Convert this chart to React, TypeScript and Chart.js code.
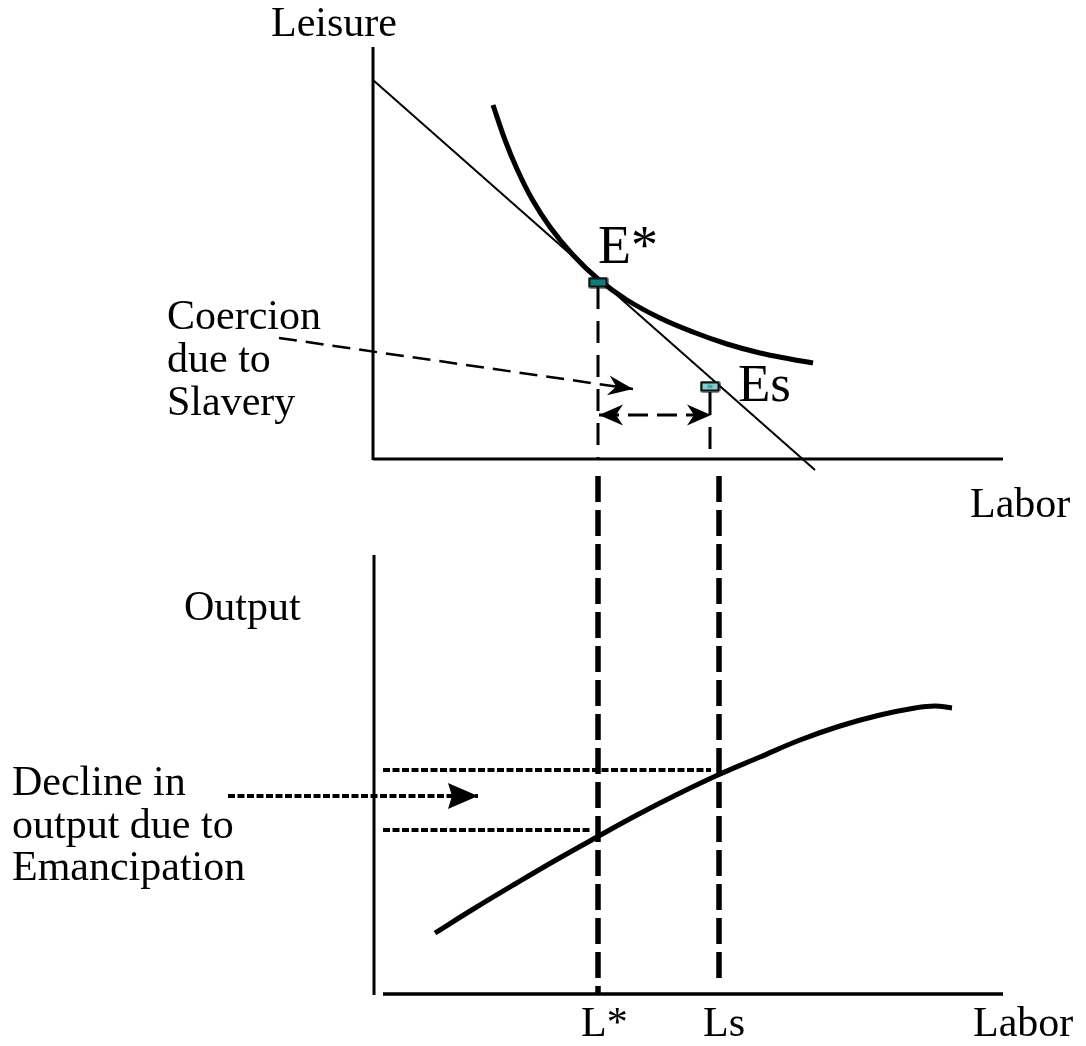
import React, { useEffect, useRef } from "react";
import { Chart, registerables } from "chart.js";

Chart.register(...registerables);

const W = 1086;
const H = 1046;
const P = 14; // hidden margin so the plot area maps exactly onto the visible frame
const FONT = "'Liberation Serif', 'Times New Roman', serif";

// ---- Top panel (Leisure vs Labor), diagram units ----
const leisureAxis = [{ x: 373, y: 47 }, { x: 373, y: 460 }];
const laborAxisTop = [{ x: 373, y: 459 }, { x: 1003, y: 459 }];
const budgetLine = [{ x: 373, y: 80 }, { x: 815, y: 470 }];
const indifferenceCurve = [
  { x: 493, y: 105 }, { x: 505, y: 140 }, { x: 517, y: 169 }, { x: 532, y: 199 },
  { x: 550, y: 227 }, { x: 573, y: 255 }, { x: 598, y: 279 }, { x: 627, y: 300 },
  { x: 660, y: 318 }, { x: 693, y: 332 }, { x: 727, y: 344 }, { x: 760, y: 353 },
  { x: 790, y: 359 }, { x: 813, y: 363 },
];
const eStarDrop = [{ x: 598, y: 287 }, { x: 598, y: 459 }];
const esStem = [{ x: 710, y: 392 }, { x: 710, y: 415 }];
const esDrop = [{ x: 710, y: 427 }, { x: 710, y: 459 }];
const coercionArrow = [{ x: 279, y: 338 }, { x: 633, y: 389 }];
const gapArrow = [{ x: 599, y: 415 }, { x: 711, y: 415 }];
const eStarPoint = [{ x: 598, y: 282.5 }];
const esPoint = [{ x: 710, y: 386.5 }];

// ---- Bottom panel (Output vs Labor) ----
const outputAxis = [{ x: 374, y: 555 }, { x: 374, y: 995 }];
const laborAxisBottom = [{ x: 383, y: 994 }, { x: 1003, y: 994 }];
const productionCurve = [
  { x: 435, y: 933 }, { x: 475, y: 908 }, { x: 515, y: 884 }, { x: 556, y: 860 },
  { x: 597, y: 837 }, { x: 637, y: 815 }, { x: 678, y: 794 }, { x: 718, y: 775 },
  { x: 760, y: 757 }, { x: 800, y: 740 }, { x: 840, y: 726 }, { x: 880, y: 715 },
  { x: 915, y: 708 }, { x: 935, y: 706 }, { x: 952, y: 708 },
];
const lStarDrop = [{ x: 598, y: 476 }, { x: 598, y: 994 }];
const lsDrop = [{ x: 719, y: 476 }, { x: 719, y: 986 }];
const outputAtLs = [{ x: 383, y: 770 }, { x: 711, y: 770 }];
const outputAtLStar = [{ x: 383, y: 830 }, { x: 590, y: 830 }];
const declineArrow = [{ x: 228, y: 796 }, { x: 478, y: 796 }];

// ---- Text labels (baseline anchored, left aligned) ----
const labelTexts = ["Leisure", "Labor", "Coercion", "due to", "Slavery", "E*", "Es",
  "Output", "Decline in", "output due to", "Emancipation", "L*", "Ls", "Labor"];
const labelX = [271, 970, 167, 167, 167, 598, 738, 184, 12, 12, 12, 581, 703, 973];
const labelY = [36, 517, 329, 372, 415, 263, 401, 620, 795, 838, 880, 1036, 1036, 1036];
const labelSize = [42, 42, 42, 42, 42, 54, 53, 42, 42, 42, 42, 42, 42, 42];

function markerCanvas(fill: string, inner: string) {
  const c = document.createElement("canvas");
  c.width = 21;
  c.height = 12;
  const g = c.getContext("2d")!;
  g.fillStyle = "#111";
  g.beginPath();
  (g as any).roundRect ? (g as any).roundRect(0.5, 0.5, 20, 11, 2) : g.rect(0.5, 0.5, 20, 11);
  g.fill();
  g.fillStyle = fill;
  g.fillRect(3, 3, 15, 6);
  if (inner) {
    g.fillStyle = inner;
    g.fillRect(8, 4.5, 5, 3);
  }
  return c;
}

function line(data: any[], width: number, dash: number[] = [], extra: any = {}) {
  return {
    data,
    showLine: true,
    borderColor: "#000",
    backgroundColor: "#000",
    borderWidth: width,
    borderDash: dash,
    pointRadius: 0,
    pointHoverRadius: 0,
    fill: false,
    ...extra,
  };
}

function arrowHead(ctx: CanvasRenderingContext2D, tx: number, ty: number, fx: number, fy: number,
  len: number, half: number, notch: number) {
  const a = Math.atan2(ty - fy, tx - fx);
  ctx.save();
  ctx.translate(tx, ty);
  ctx.rotate(a);
  ctx.beginPath();
  ctx.moveTo(0, 0);
  ctx.lineTo(-len, -half);
  ctx.lineTo(-len + notch, 0);
  ctx.lineTo(-len, half);
  ctx.closePath();
  ctx.fillStyle = "#000";
  ctx.fill();
  ctx.restore();
}

const overlay = {
  id: "overlay",
  afterDatasetsDraw(chart: any) {
    const ctx = chart.ctx as CanvasRenderingContext2D;
    const xs = chart.scales.x;
    const ys = chart.scales.y;
    const px = (p: any) => [xs.getPixelForValue(p.x), ys.getPixelForValue(p.y)];
    const heads: [any, any, number, number, number][] = [
      [coercionArrow[1], coercionArrow[0], 25, 10, 8],
      [gapArrow[0], gapArrow[1], 24, 10.5, 7],
      [gapArrow[1], gapArrow[0], 24, 10.5, 7],
      [declineArrow[1], declineArrow[0], 30, 13, 4],
    ];
    for (const [tip, from, len, half, notch] of heads) {
      const [tx, ty] = px(tip);
      const [fx, fy] = px(from);
      arrowHead(ctx, tx, ty, fx, fy, len, half, notch);
    }
    ctx.save();
    ctx.fillStyle = "#000";
    ctx.textAlign = "left";
    ctx.textBaseline = "alphabetic";
    for (let i = 0; i < labelTexts.length; i++) {
      ctx.font = `${labelSize[i]}px ${FONT}`;
      ctx.fillText(labelTexts[i], xs.getPixelForValue(labelX[i]), ys.getPixelForValue(labelY[i]));
    }
    ctx.restore();
  },
};

export default function App() {
  const ref = useRef<HTMLCanvasElement | null>(null);

  useEffect(() => {
    document.body.style.margin = "0";
    const canvas = ref.current!;
    const chart = new Chart(canvas, {
      type: "scatter",
      data: {
        datasets: [
          { data: eStarPoint, pointStyle: markerCanvas("#0a7d7d", ""), pointRadius: 1, pointHoverRadius: 1, showLine: false },
          { data: esPoint, pointStyle: markerCanvas("#80d2d2", "#3aa3a3"), pointRadius: 1, pointHoverRadius: 1, showLine: false },
          line(leisureAxis, 3),
          line(laborAxisTop, 3),
          line(budgetLine, 2),
          line(indifferenceCurve, 5, [], { tension: 0.4, borderJoinStyle: "round" }),
          line(eStarDrop, 3, [22, 12]),
          line(esStem, 3),
          line(esDrop, 3, [22, 12]),
          line(coercionArrow, 2.5, [18, 9]),
          line(gapArrow, 3, [20, 9]),
          line(outputAxis, 3),
          line(laborAxisBottom, 3.5),
          line(productionCurve, 5, [], { tension: 0.4, borderJoinStyle: "round" }),
          line(lStarDrop, 5.5, [26, 8]),
          line(lsDrop, 5.5, [26, 8]),
          line(outputAtLs, 4, [7, 2.5]),
          line(outputAtLStar, 4, [7, 2.5]),
          line(declineArrow, 4, [7, 2.5]),
        ] as any,
      },
      options: {
        responsive: false,
        animation: false,
        events: [],
        layout: { padding: P },
        scales: {
          x: { type: "linear", min: 0, max: W, display: false },
          y: { type: "linear", min: 0, max: H, reverse: true, display: false },
        },
        plugins: {
          legend: { display: false },
          tooltip: { enabled: false },
        },
      } as any,
      plugins: [overlay],
    });
    return () => chart.destroy();
  }, []);

  return (
    <div style={{ position: "absolute", left: 0, top: 0, width: W, height: H, overflow: "hidden", background: "#fff" }}>
      <canvas
        ref={ref}
        width={W + 2 * P}
        height={H + 2 * P}
        style={{ position: "absolute", left: -P, top: -P, display: "block" }}
      />
    </div>
  );
}
